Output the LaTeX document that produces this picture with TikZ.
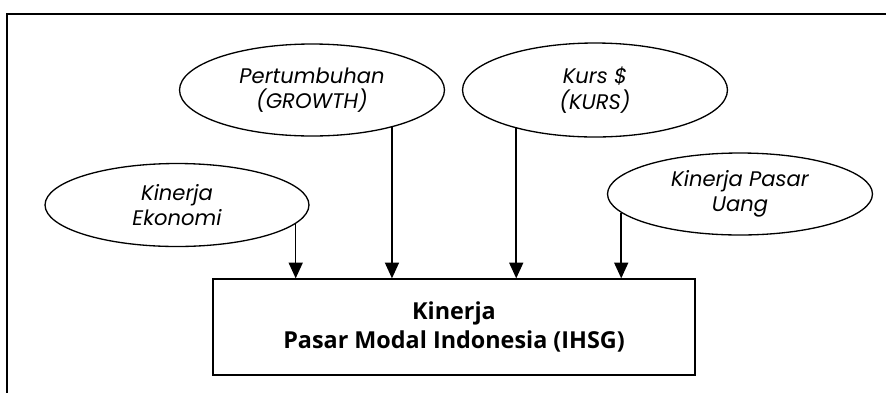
\documentclass[tikz,border=0pt]{standalone}
\usepackage{fontspec}
\setmainfont{Open Sans}
\newfontfamily\ovalfont{Poppins}
\usetikzlibrary{arrows.meta,shapes.geometric,positioning}

\begin{document}
\begin{tikzpicture}[x=0.02cm,y=-0.02cm]
		\useasboundingbox (0,0) rectangle (886,393);
		\draw[line width=0.75pt] (886,14) -- (7,14) -- (7,393);

		\begin{scope}[every node/.style={ellipse,draw,line width=0.75pt,align=center,inner sep=0pt,font=\ovalfont\itshape\fontsize{12}{14.5}\selectfont}]
			\node[minimum width=5.3cm,minimum height=1.84cm] (growth) at (312,90) {Pertumbuhan\\(GROWTH)};
			\node[minimum width=5.3cm,minimum height=1.88cm] (kurs) at (595,90) {Kurs \$\\(KURS)};
			\node[minimum width=5.28cm,minimum height=1.66cm] (eko) at (177,205) {Kinerja\\Ekonomi};
			\node[minimum width=5.3cm,minimum height=1.64cm] (uang) at (740,194) {Kinerja Pasar\\Uang};
		\end{scope}

		\node[draw,line width=0.75pt,minimum width=9.64cm,minimum height=1.92cm,align=center,font=\bfseries\fontsize{13.3}{17}\selectfont] (ihsg) at (454,327) {Kinerja\\Pasar Modal Indonesia (IHSG)};

		\begin{scope}[>={Triangle[length=9pt,width=8pt]},line width=0.9pt]
			\path[->] (eko.-9.5) edge (eko.-9.5 |- ihsg.north);
			\path[->] (growth.-25) edge (growth.-25 |- ihsg.north);
			\path[->] (kurs.-154) edge (kurs.-154 |- ihsg.north);
			\path[->] (uang.-171) edge (uang.-171 |- ihsg.north);
		\end{scope}
	\end{tikzpicture}
\end{document}
